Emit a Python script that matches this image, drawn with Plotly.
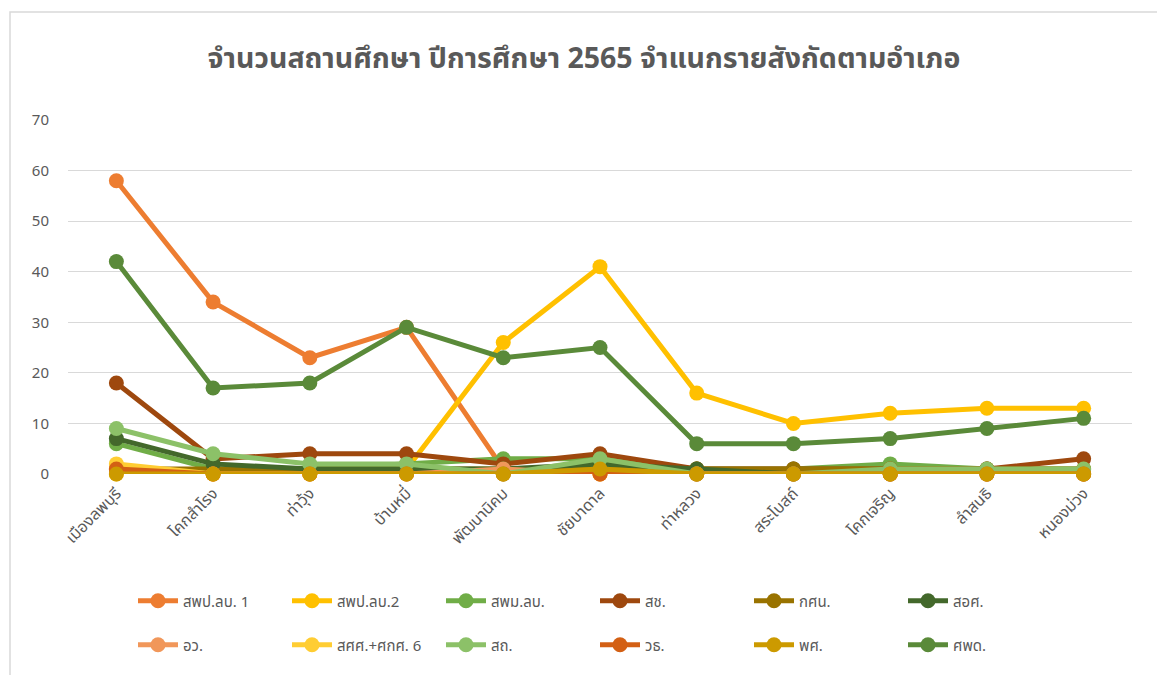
import plotly.graph_objects as go

districts = ["เมืองลพบุรี", "โคกสำโรง", "ท่าวุ้ง", "บ้านหมี่", "พัฒนานิคม", "ชัยบาดาล",
             "ท่าหลวง", "สระโบสถ์", "โคกเจริญ", "ลำสนธิ", "หนองม่วง"]

s_spp1 = [58, 34, 23, 29, 1, 0, 0, 0, 0, 0, 0]
s_spp2 = [0, 0, 0, 1, 26, 41, 16, 10, 12, 13, 13]
s_spm = [6, 1, 1, 2, 3, 3, 1, 1, 2, 1, 1]
s_sch = [18, 3, 4, 4, 2, 4, 1, 1, 1, 1, 3]
s_ksn = [1, 1, 1, 1, 1, 1, 1, 1, 1, 1, 1]
s_sos = [7, 2, 1, 1, 1, 2, 1, 0, 0, 0, 0]
s_aw = [1, 0, 0, 0, 1, 0, 0, 0, 0, 0, 0]
s_ssk = [2, 0, 0, 0, 0, 0, 0, 0, 0, 0, 0]
s_st = [9, 4, 2, 2, 0, 3, 0, 0, 1, 1, 1]
s_wt = [1, 0, 0, 0, 0, 0, 0, 0, 0, 0, 0]
s_ps = [0, 0, 0, 0, 0, 1, 0, 0, 0, 0, 0]
s_spd = [42, 17, 18, 29, 23, 25, 6, 6, 7, 9, 11]

series_names = ["สพป.ลบ. 1", "สพป.ลบ.2", "สพม.ลบ.", "สช.", "กศน.", "สอศ.",
                "อว.", "สศศ.+ศกศ. 6", "สถ.", "วธ.", "พศ.", "ศพด."]
series_values = [s_spp1, s_spp2, s_spm, s_sch, s_ksn, s_sos,
                 s_aw, s_ssk, s_st, s_wt, s_ps, s_spd]
series_colors = ["#ED7D31", "#FFC000", "#70AD47", "#9E480E", "#997300", "#43682B",
                 "#F1975A", "#FFCD33", "#8CC168", "#D36014", "#CC9A00", "#5A8A39"]

y_ticks = [0, 10, 20, 30, 40, 50, 60, 70]

FONT = "Tahoma, 'Leelawadee UI', 'Noto Sans Thai', 'Noto Sans', sans-serif"
GRAY = "#595959"

fig = go.Figure()
for i, (name, vals, col) in enumerate(zip(series_names, series_values, series_colors)):
    fig.add_trace(go.Scatter(
        x=districts, y=vals, name=name, mode="lines+markers",
        line=dict(color=col, width=5),
        marker=dict(color=col, size=15),
        cliponaxis=False,
        legend="legend" if i < 6 else "legend2",
    ))

L, R, T, B = 68, 25, 120, 201
W, H = 1157, 675
pw = W - L - R
ph = H - T - B

def px_x(x):
    return (x - L) / pw

def px_y(y):
    return (H - B - y) / ph

leg_common = dict(
    orientation="h", xanchor="left", yanchor="middle",
    font=dict(family=FONT, size=15, color=GRAY),
    entrywidth=99, entrywidthmode="pixels",
    bgcolor="rgba(0,0,0,0)", itemwidth=40,
)

fig.update_layout(
    width=W, height=H,
    margin=dict(l=L, r=R, t=T, b=B),
    paper_bgcolor="white", plot_bgcolor="white",
    title=dict(text="<b>จำนวนสถานศึกษา ปีการศึกษา 2565 จำแนกรายสังกัดตามอำเภอ</b>",
               x=584 / W, xref="container", xanchor="center", y=1 - 58 / H, yanchor="middle",
               font=dict(family=FONT, size=28.5, color=GRAY)),
    xaxis=dict(type="category", range=[-0.5, 10.5], showgrid=False, zeroline=False,
               showline=False, tickangle=-45, ticks="", ticklabelstandoff=6,
               tickfont=dict(family=FONT, size=16, color=GRAY)),
    yaxis=dict(range=[0, 70], tickvals=y_ticks, showgrid=True, gridcolor="#D9D9D9",
               gridwidth=1.3, zeroline=False, showline=False, ticks="",
               ticklabelstandoff=18,
               tickfont=dict(family=FONT, size=15, color=GRAY)),
    legend=dict(x=px_x(133), y=px_y(601), **leg_common),
    legend2=dict(x=px_x(133), y=px_y(645), **leg_common),
    showlegend=True,
    shapes=[dict(type="rect", xref="paper", yref="paper",
                 x0=px_x(10), x1=px_x(1170), y0=px_y(690), y1=px_y(12),
                 line=dict(color="#D9D9D9", width=1.5), fillcolor="rgba(0,0,0,0)",
                 layer="below")],
)

fig.write_html("out.html", config={"displayModeBar": False},
               post_script="document.body.style.margin='0';")
